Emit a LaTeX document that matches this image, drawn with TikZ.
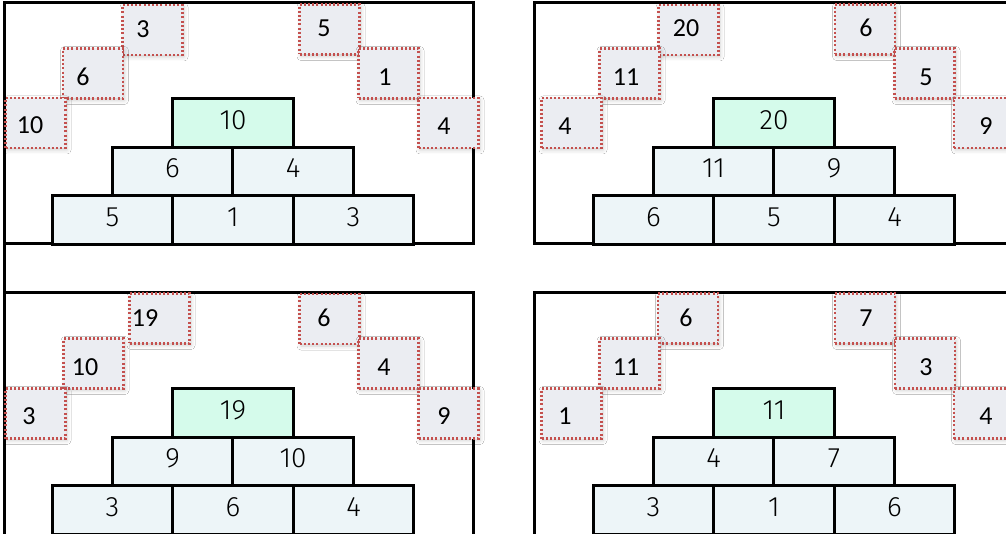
\documentclass[tikz,border=0pt]{standalone}
\usepackage{fontspec}
\setmainfont{Carlito}
\newfontfamily\dfont{Carlito}
\newfontfamily\pfont{Fira Sans Light}
\usetikzlibrary{shadows.blur}
\definecolor{dotred}{HTML}{C4504E}
\definecolor{dboxfill}{HTML}{EBEDF2}
\definecolor{brickblue}{HTML}{EDF5F8}
\definecolor{brickgreen}{HTML}{D5FBEB}
\tikzset{
  frame/.style={line width=3pt, line cap=rect},
  brick/.style={draw, line width=3pt, fill=brickblue, minimum width=120.5pt, minimum height=48.5pt, inner sep=0pt, text depth=6pt, font=\pfont\fontsize{28}{28}\selectfont},
  topbrick/.style={brick, fill=brickgreen},
  dbox/.style={draw=dotred, fill=dboxfill, line width=2.2pt, dash pattern=on 2pt off 2.2pt, minimum width=60pt, minimum height=50pt, inner sep=0pt,
    blur shadow={shadow xshift=1.5pt, shadow yshift=-2pt, shadow blur radius=4pt, shadow opacity=20}},
  dnum/.style={inner sep=0pt, font=\dfont\fontsize{26}{26}\selectfont},
}
\newcommand\pyramid[8]{% dx dy top m1 m2 b1 b2 b3
  \begin{scope}[shift={(#1,#2)}]
    \node[brick] (#1b1) at (112.5,220) {#6};
    \node[brick] (#1b2) at (233,220) {#7};
    \node[brick] (#1b3) at (353.5,220) {#8};
    \node[brick] (#1m1) at (172.5,171.5) {#4};
    \node[brick] (#1m2) at (293,171.5) {#5};
    \node[topbrick] (#1t) at (233,123) {#3};
  \end{scope}}
\begin{document}
\begin{tikzpicture}[x=1pt,y=-1pt]
\useasboundingbox (0,0) rectangle (1006,534);
\fill[white] (0,0) rectangle (1006,534);
% frames
\draw[frame] (4,3) rectangle (473,244);
\draw[frame] (534,3) rectangle (1012,244);
\draw[frame] (4,293) rectangle (473,537);
\draw[frame] (534,293) rectangle (1012,537);
\draw[frame] (4,244) -- (4,293);
% pyramids
\pyramid{0}{0}{10}{6}{4}{5}{1}{3}
\pyramid{541}{0}{20}{11}{9}{6}{5}{4}
\begin{scope}[shift={(0,290)}]
    \node[brick] (cb1) at (112.5,220) {3};
    \node[brick] (cb2) at (233,220) {6};
    \node[brick] (cb3) at (353.5,220) {4};
    \node[brick] (cm1) at (172.5,171.5) {9};
    \node[brick] (cm2) at (293,171.5) {10};
    \node[topbrick] (ct) at (233,123) {19};
\end{scope}
\begin{scope}[shift={(541,290)}]
    \node[brick] (db1) at (112.5,220) {3};
    \node[brick] (db2) at (233,220) {1};
    \node[brick] (db3) at (353.5,220) {6};
    \node[brick] (dm1) at (172.5,171.5) {4};
    \node[brick] (dm2) at (293,171.5) {7};
    \node[topbrick] (dt) at (233,123) {11};
\end{scope}
% dotted boxes panel 1
\node[dbox] (a1) at (152.5,30) {};
\node[dbox] (a2) at (93,73.5) {};
\node[dbox] (a3) at (35.5,123) {};
\node[dbox] (a4) at (329.5,29.5) {};
\node[dbox] (a5) at (388.5,73.5) {};
\node[dbox] (a6) at (448.5,123) {};
\node[dnum] (na1) at (143,29) {3};
\node[dnum] (na2) at (83,77) {6};
\node[dnum] (na3) at (30,125) {10};
\node[dnum] (na4) at (324,28) {5};
\node[dnum] (na5) at (385,77) {1};
\node[dnum] (na6) at (444,126) {4};
% panel 2
\node[dbox] (b1) at (688.5,30) {};
\node[dbox] (b2) at (629.5,73.5) {};
\node[dbox] (b3) at (571.5,123) {};
\node[dbox] (b4) at (865,29.5) {};
\node[dbox] (b5) at (924.5,73.5) {};
\node[dbox] (b6) at (984,123) {};
\node[dnum] (nb1) at (686,28) {20};
\node[dnum] (nb2) at (626,77) {11};
\node[dnum] (nb3) at (565,126) {4};
\node[dnum] (nb4) at (866,28) {6};
\node[dnum] (nb5) at (926,77) {5};
\node[dnum] (nb6) at (986,126) {9};
% panel 3
\node[dbox] (c1) at (159.5,318.5) {};
\node[dbox] (c2) at (93.5,363.5) {};
\node[dbox] (c3) at (35.5,413.5) {};
\node[dbox] (c4) at (329.5,319) {};
\node[dbox] (c5) at (388.5,363.5) {};
\node[dbox] (c6) at (448.5,413.5) {};
\node[dnum] (nc1) at (145,318) {19};
\node[dnum] (nc2) at (85,367) {10};
\node[dnum] (nc3) at (29,416) {3};
\node[dnum] (nc4) at (324,318) {6};
\node[dnum] (nc5) at (384,367) {4};
\node[dnum] (nc6) at (444,416) {9};
% panel 4
\node[dbox] (d1) at (688,318.5) {};
\node[dbox] (d2) at (629.5,363.5) {};
\node[dbox] (d3) at (571.5,413.5) {};
\node[dbox] (d4) at (865,318.5) {};
\node[dbox] (d5) at (925,363.5) {};
\node[dbox] (d6) at (984,413.5) {};
\node[dnum] (nd1) at (686,318) {6};
\node[dnum] (nd2) at (626,367) {11};
\node[dnum] (nd3) at (565,416) {1};
\node[dnum] (nd4) at (866,318) {7};
\node[dnum] (nd5) at (926,367) {3};
\node[dnum] (nd6) at (986,416) {4};
\end{tikzpicture}
\end{document}
